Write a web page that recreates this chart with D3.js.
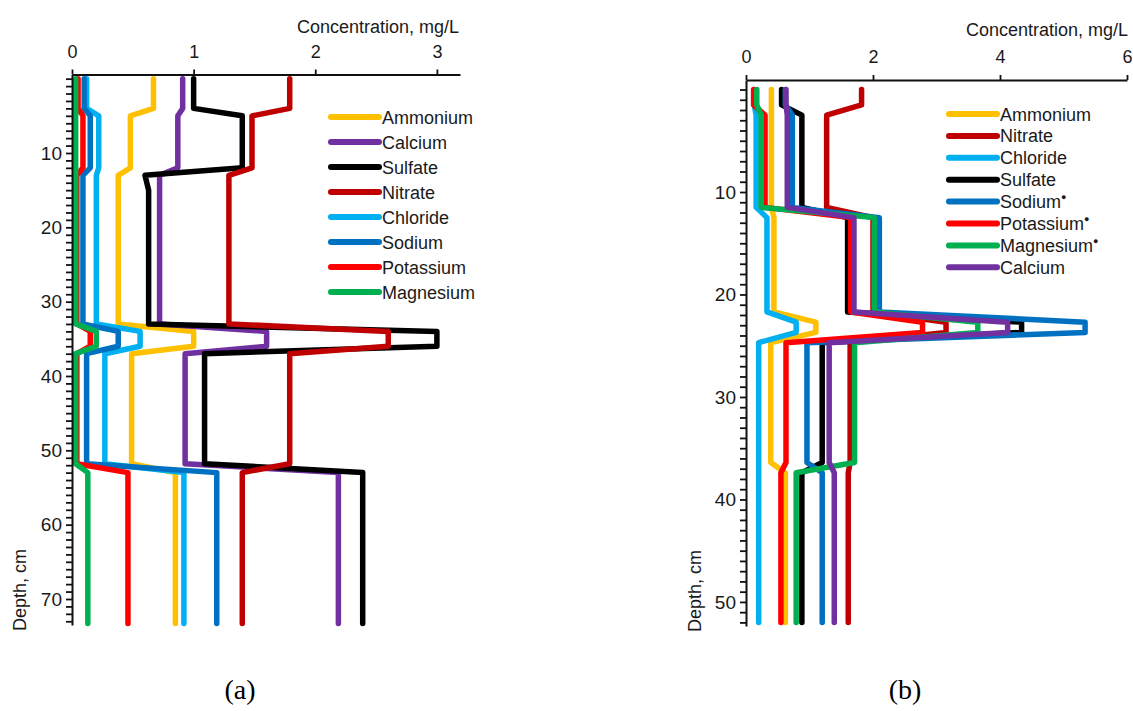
<!DOCTYPE html>
<html>
<head>
<meta charset="utf-8">
<script src="https://cdn.jsdelivr.net/npm/d3@7"></script>
<style>
body { margin: 0; background: #fff; }
text { font-family: "Liberation Sans", Arial, sans-serif; fill: #1a1a1a; }
</style>
</head>
<body>
<div class="box"></div>
<script>
// ---- panel (a) data : depth (cm) and concentration (mg/L) ----
const depthA = [0, 4, 5, 12, 13, 15, 33, 34, 36, 37, 51.8, 53, 73.3];
const ammoniumA  = [0.67, 0.67, 0.48, 0.48, 0.38, 0.38, 0.38, 1.00, 1.00, 0.49, 0.49, 0.85, 0.85];
const calciumA   = [0.91, 0.91, 0.87, 0.87, 0.72, 0.72, 0.72, 1.60, 1.60, 0.93, 0.93, 2.19, 2.19];
const sulfateA   = [1.00, 1.00, 1.40, 1.40, 0.60, 0.63, 0.63, 3.00, 3.00, 1.09, 1.09, 2.39, 2.39];
const nitrateA   = [1.79, 1.79, 1.48, 1.48, 1.29, 1.29, 1.29, 2.60, 2.60, 1.79, 1.79, 1.40, 1.40];
const chlorideA  = [0.12, 0.12, 0.22, 0.22, 0.20, 0.20, 0.20, 0.56, 0.56, 0.27, 0.27, 0.92, 0.92];
const sodiumA    = [0.10, 0.10, 0.15, 0.15, 0.09, 0.09, 0.09, 0.38, 0.38, 0.12, 0.12, 1.19, 1.19];
const potassiumA = [0.05, 0.05, 0.09, 0.09, 0.04, 0.04, 0.04, 0.15, 0.15, 0.04, 0.04, 0.46, 0.46];
const magnesiumA = [0.03, 0.03, 0.03, 0.03, 0.03, 0.03, 0.03, 0.20, 0.20, 0.03, 0.03, 0.13, 0.13];
const namesA = ["Ammonium", "Calcium", "Sulfate", "Nitrate", "Chloride", "Sodium", "Potassium", "Magnesium"];
const ticksXA = [0, 1, 2, 3];

// ---- panel (b) data ----
const depthB = [0, 1.5, 2.5, 11.5, 12.5, 21.7, 22.7, 23.7, 24.7, 36.4, 37.4, 52];
const ammoniumB  = [0.40, 0.40, 0.40, 0.40, 0.44, 0.44, 1.10, 1.10, 0.39, 0.39, 0.62, 0.62];
const nitrateB   = [1.82, 1.82, 1.27, 1.27, 2.00, 2.00, 3.15, 3.15, 1.64, 1.64, 1.61, 1.61];
const chlorideB  = [0.13, 0.13, 0.16, 0.16, 0.33, 0.33, 0.79, 0.79, 0.20, 0.20, 0.20, 0.20];
const sulfateB   = [0.56, 0.56, 0.88, 0.88, 1.60, 1.60, 4.34, 4.34, 1.20, 1.20, 0.88, 0.88];
const sodiumB    = [0.62, 0.62, 0.73, 0.73, 2.10, 2.10, 5.34, 5.34, 0.96, 0.96, 1.20, 1.20];
const potassiumB = [0.12, 0.12, 0.30, 0.30, 1.65, 1.65, 2.78, 2.78, 0.63, 0.63, 0.55, 0.55];
const magnesiumB = [0.17, 0.17, 0.24, 0.24, 2.02, 2.02, 3.65, 3.65, 1.71, 1.71, 0.79, 0.79];
const calciumB   = [0.63, 0.63, 0.65, 0.65, 1.70, 1.70, 4.12, 4.12, 1.31, 1.31, 1.39, 1.39];
const namesB = ["Ammonium", "Nitrate", "Chloride", "Sulfate", "Sodium", "Potassium", "Magnesium", "Calcium"];
const starredB = ["Sodium", "Potassium", "Magnesium"];
const ticksXB = [0, 2, 4, 6];

(() => {

    const colors = {
        Ammonium: "#FFC000", Calcium: "#7030A0", Sulfate: "#000000", Nitrate: "#C00000",
        Chloride: "#00B0F0", Sodium: "#0070C0", Potassium: "#FF0000", Magnesium: "#00B050"
    };

    const svg = d3.select(".box")
        .append("svg")
        .attr("width", 1133)
        .attr("height", 711)
        .style("background", "white");

    const panel = (p) => {

        const x = d3.scaleLinear().domain(p.xDomain).range(p.xRange);
        const y = d3.scaleLinear().domain(p.yDomain).range(p.yRange);

        const g = svg.append("g");

        // series lines
        const line = d3.line()
            .x(d => x(d.v))
            .y(d => y(d.d));

        p.series.forEach(s => {
            const pts = s.values.map((v, i) => ({ v: v, d: p.depth[i] }));
            g.append("path")
                .datum(pts)
                .attr("d", line)
                .attr("fill", "none")
                .attr("stroke", colors[s.name])
                .attr("stroke-width", 5.5)
                .attr("stroke-linejoin", "round")
                .attr("stroke-linecap", "round");
        });

        // axes
        const axeX = d3.axisTop(x)
            .tickValues(p.xTicks)
            .tickSize(5)
            .tickSizeOuter(0)
            .tickPadding(12)
            .tickFormat(d3.format("d"));

        const yTicks = d3.range(0, Math.floor(p.yDomain[1]) + 1);
        const axeY = d3.axisLeft(y)
            .tickValues(yTicks)
            .tickSize(6)
            .tickSizeOuter(0)
            .tickPadding(4)
            .tickFormat(d => (d > 0 && d % 10 === 0) ? d : "");

        const groupeX = g.append("g")
            .attr("transform", `translate(0,${p.yRange[0]})`)
            .call(axeX);
        const groupeY = g.append("g")
            .attr("transform", `translate(${p.xRange[0]},0)`)
            .call(axeY);

        [groupeX, groupeY].forEach(a => {
            a.select(".domain").attr("stroke", "#111").attr("stroke-width", 2);
            a.selectAll(".tick line").attr("stroke", "#111").attr("stroke-width", 1.8);
            a.selectAll("text")
                .style("font-size", "18px")
                .style("font-family", "'Liberation Sans', Arial, sans-serif")
                .attr("fill", "#1a1a1a");
        });
        groupeY.selectAll("text").style("font-size", "19px");

        // axis titles
        g.append("text")
            .attr("x", p.titleX)
            .attr("y", p.titleY)
            .attr("text-anchor", "end")
            .style("font-size", "18px")
            .text("Concentration, mg/L");

        g.append("text")
            .attr("transform", `translate(${p.depthLabelX},${p.yRange[1] + 6}) rotate(-90)`)
            .attr("text-anchor", "start")
            .style("font-size", "18px")
            .text("Depth, cm");

        // legend
        const leg = g.append("g");
        p.series.forEach((s, i) => {
            const ly = p.legendY + i * p.legendStep;
            leg.append("line")
                .attr("x1", p.legendX)
                .attr("x2", p.legendX + 48)
                .attr("y1", ly)
                .attr("y2", ly)
                .attr("stroke", colors[s.name])
                .attr("stroke-width", 6)
                .attr("stroke-linecap", "round");
            const t = leg.append("text")
                .attr("x", p.legendX + 51)
                .attr("y", ly + 6.5)
                .style("font-size", "18px")
                .text(s.name);
            if (p.starred && p.starred.includes(s.name)) {
                t.append("tspan")
                    .attr("dy", -8)
                    .style("font-size", "9px")
                    .text("\u25CF");
            }
        });

        // caption
        svg.append("text")
            .attr("x", p.captionX)
            .attr("y", 699)
            .attr("text-anchor", "middle")
            .style("font-family", "'Liberation Serif', 'Times New Roman', serif")
            .style("font-size", "28px")
            .style("fill", "#000")
            .text(p.caption);
    };

    const seriesA = [ammoniumA, calciumA, sulfateA, nitrateA, chlorideA, sodiumA, potassiumA, magnesiumA]
        .map((v, i) => ({ name: namesA[i], values: v }));

    const byNameB = {
        Ammonium: ammoniumB, Nitrate: nitrateB, Chloride: chlorideB, Sulfate: sulfateB,
        Sodium: sodiumB, Potassium: potassiumB, Magnesium: magnesiumB, Calcium: calciumB
    };
    const seriesB = namesB.map(n => ({ name: n, values: byNameB[n] }));

    panel({
        series: seriesA, depth: depthA,
        xDomain: [0, 3.19], xRange: [72, 460], xTicks: ticksXA,
        yDomain: [-0.56, 73.5], yRange: [74.5, 625],
        titleX: 459, titleY: 33, depthLabelX: 26,
        legendX: 331, legendY: 117, legendStep: 25,
        caption: "(a)", captionX: 240
    });

    panel({
        series: seriesB, depth: depthB,
        xDomain: [0, 6], xRange: [746, 1127], xTicks: ticksXB,
        yDomain: [-0.93, 52.35], yRange: [80, 626],
        titleX: 1128, titleY: 36, depthLabelX: 701,
        legendX: 949, legendY: 114, legendStep: 21.9, starred: starredB,
        caption: "(b)", captionX: 905
    });

})();
</script>
</body>
</html>
